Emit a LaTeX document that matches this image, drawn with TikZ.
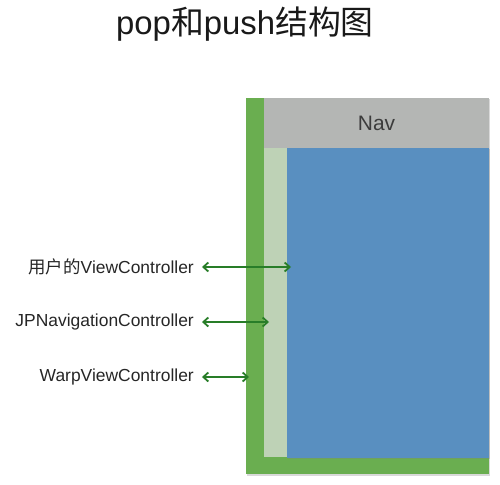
\documentclass[tikz,border=0pt]{standalone}
\usepackage{fontspec}
\setmainfont{Liberation Sans}
\newfontfamily\cjk{Noto Sans CJK SC}
\usetikzlibrary{arrows.meta,shadows}
\definecolor{outergreen}{RGB}{106,174,80}
\definecolor{palestrip}{RGB}{190,210,182}
\definecolor{navgray}{RGB}{180,182,180}
\definecolor{viewblue}{RGB}{89,143,192}
\definecolor{arrowgreen}{RGB}{40,125,40}
\definecolor{textgray}{RGB}{60,60,60}
\tikzset{
  lbl/.style={anchor=east,font=\fontsize{17.5}{20}\selectfont,text=black!85,inner sep=0pt},
  link/.style={draw=arrowgreen,line width=1.8pt,{Straight Barb[length=5pt,width=9pt]}-{Straight Barb[length=5pt,width=9pt]}},
}
\begin{document}
\begin{tikzpicture}[x=1bp,y=-1bp]
\useasboundingbox (0,0) rectangle (500,485);
% title
\node[font=\fontsize{33}{36}\selectfont,text=black!90] (title) at (245,24) {pop{\cjk 和}push{\cjk 结构图}};
% outer green
\fill[outergreen,drop shadow={shadow xshift=0.5pt,shadow yshift=-1.5pt,opacity=0.3}] (246,98) rectangle (489,474);
% nav bar
\fill[navgray] (264,98) rectangle (489,148);
\node[font=\fontsize{21}{24}\selectfont,text=textgray] (nav) at (376.5,123) {Nav};
% pale strip
\fill[palestrip] (264,148) rectangle (287,457);
% blue view
\fill[viewblue,drop shadow={shadow xshift=0.5pt,shadow yshift=-1pt,opacity=0.3}] (287,148) rectangle (489,458);
% labels
\node[lbl] (user) at (194,267) {{\cjk 用户的}ViewController};
\node[lbl] (jpnav) at (194,322) {JPNavigationController};
\node[lbl] (warp) at (194,377) {WarpViewController};
\coordinate (userEnd) at (291,267);
\coordinate (jpnavEnd) at (269,322);
\coordinate (warpEnd) at (249,377);
\draw[link] ([xshift=8pt]user.east) -- (userEnd);
\draw[link] ([xshift=8pt]jpnav.east) -- (jpnavEnd);
\draw[link] ([xshift=8pt]warp.east) -- (warpEnd);
\end{tikzpicture}
\end{document}
